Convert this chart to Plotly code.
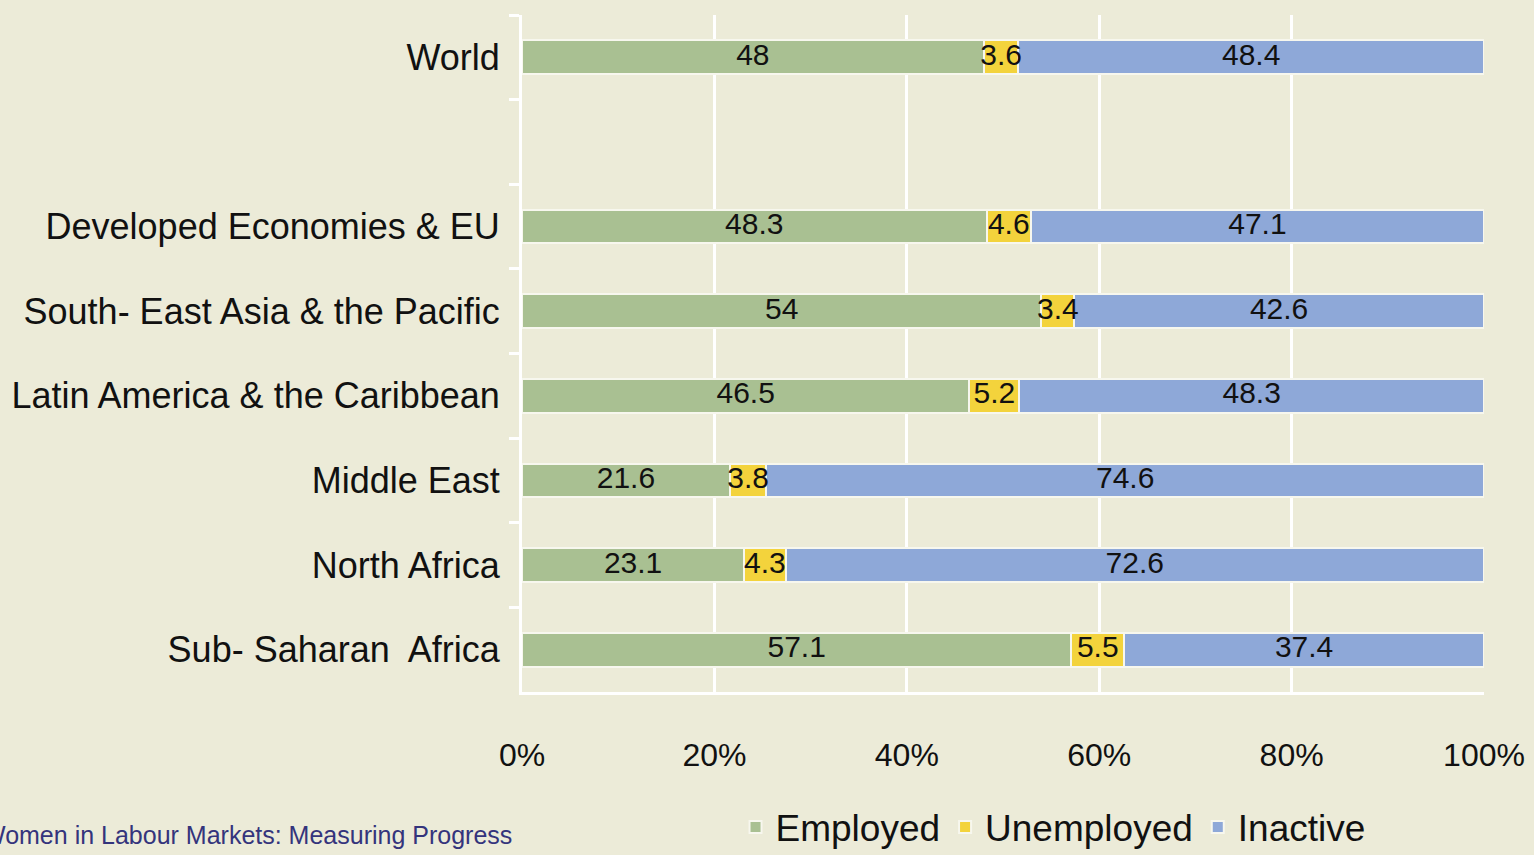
import plotly.graph_objects as go

# Share of women by labour market status (%)
regions = [
    "World",
    " ",
    "Developed Economies & EU",
    "South- East Asia & the Pacific",
    "Latin America & the Caribbean",
    "Middle East",
    "North Africa",
    "Sub- Saharan  Africa",
]
employed = [48, None, 48.3, 54, 46.5, 21.6, 23.1, 57.1]
unemployed = [3.6, None, 4.6, 3.4, 5.2, 3.8, 4.3, 5.5]
inactive = [48.4, None, 47.1, 42.6, 48.3, 74.6, 72.6, 37.4]

x_ticks = [0, 20, 40, 60, 80, 100]
x_tick_labels = ["0%", "20%", "40%", "60%", "80%", "100%"]

FONT = "Liberation Sans Narrow, Arial Narrow, Liberation Sans, sans-serif"
BG = "#ecebd8"

series = [
    ("Employed", employed, "#a9c092"),
    ("Unemployed", unemployed, "#f3d33c"),
    ("Inactive", inactive, "#8ea8d8"),
]

fig = go.Figure()
for name, vals, color in series:
    fig.add_trace(go.Bar(
        name=name,
        y=regions,
        x=vals,
        orientation="h",
        marker=dict(color=color, line=dict(color="#f7f7ee", width=2)),
        hoverinfo="skip",
    ))

# Value labels centred on each segment, drawn above all bars so that
# labels wider than a thin segment stay fully visible
lab_x, lab_y, lab_t = [], [], []
for i, region in enumerate(regions):
    start = 0.0
    for _, vals, _ in series:
        v = vals[i]
        if v is None:
            continue
        lab_x.append(start + v / 2)
        lab_y.append(region)
        lab_t.append(f"{v:g}")
        start += v

fig.add_trace(go.Scatter(
    x=lab_x,
    y=lab_y,
    text=lab_t,
    mode="text",
    textposition="middle center",
    textfont=dict(family=FONT, size=30, color="#111111"),
    showlegend=False,
    hoverinfo="skip",
    cliponaxis=False,
))

fig.add_annotation(
    text="Women in Labour Markets: Measuring Progress",
    xref="paper", yref="paper",
    x=-0.5635, y=-0.211,
    xanchor="left", yanchor="middle",
    showarrow=False,
    font=dict(family=FONT, size=25, color="#34347c"),
)

fig.update_layout(
    barmode="stack",
    bargap=0.6,
    width=1534,
    height=855,
    paper_bgcolor=BG,
    plot_bgcolor=BG,
    margin=dict(l=522, r=50, t=15, b=163, autoexpand=False),
    showlegend=True,
    legend=dict(
        orientation="h",
        x=0.552, y=-0.2,
        xanchor="center", yanchor="middle",
        font=dict(family=FONT, size=37, color="#111111"),
        bgcolor="rgba(0,0,0,0)",
        itemwidth=30,
        traceorder="normal",
    ),
    xaxis=dict(
        range=[0, 100],
        tickvals=x_ticks,
        ticktext=x_tick_labels,
        showgrid=True,
        gridcolor="#ffffff",
        gridwidth=3,
        zeroline=False,
        showline=True,
        linecolor="#ffffff",
        linewidth=3,
        ticks="",
        tickfont=dict(family=FONT, size=32, color="#111111"),
        ticklabelstandoff=33,
        automargin=False,
        fixedrange=True,
    ),
    yaxis=dict(
        categoryorder="array",
        categoryarray=regions,
        range=[7.5, -0.5],
        showgrid=False,
        showline=True,
        linecolor="#ffffff",
        linewidth=3,
        ticks="outside",
        tickson="boundaries",
        ticklen=10,
        tickwidth=3,
        tickcolor="#ffffff",
        tickfont=dict(family=FONT, size=36, color="#111111"),
        ticklabelstandoff=12,
        automargin=False,
        fixedrange=True,
    ),
)

fig.write_html("out.html")
